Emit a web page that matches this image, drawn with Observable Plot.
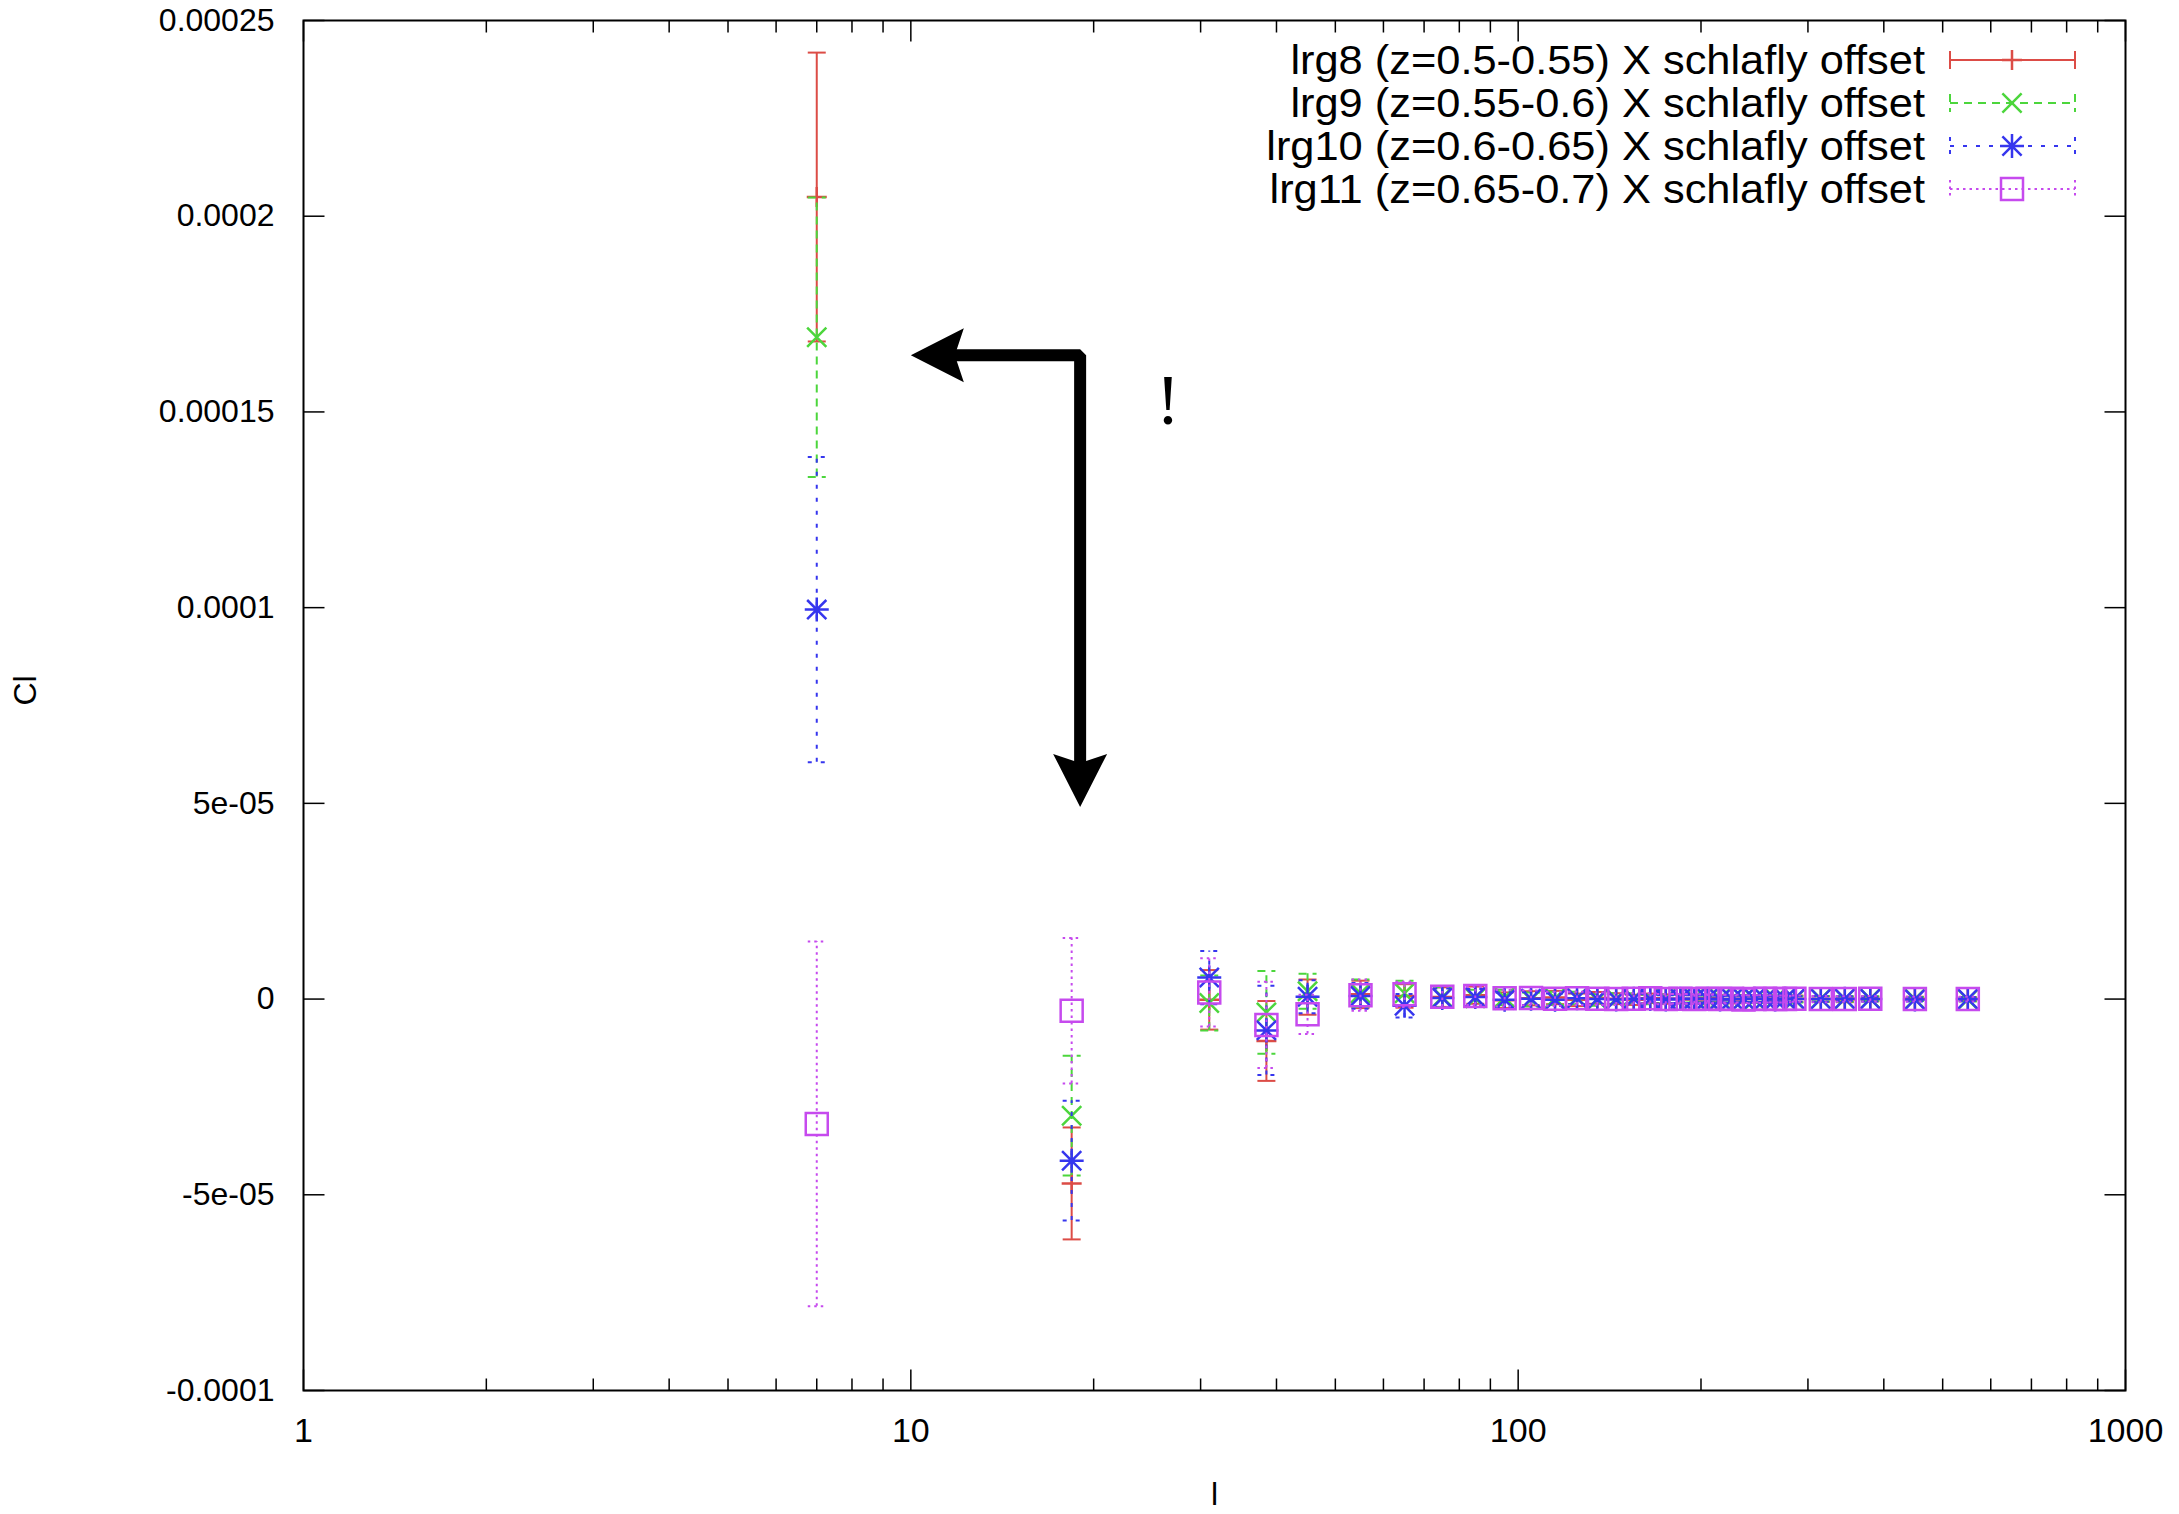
<!DOCTYPE html>
<html>
<head>
<meta charset="utf-8">
<script src="https://cdn.jsdelivr.net/npm/d3@7"></script>
<script src="https://cdn.jsdelivr.net/npm/@observablehq/plot@0.6"></script>
<style>
  html, body { margin: 0; padding: 0; background: #ffffff; }
  #chart { width: 2179px; height: 1514px; overflow: hidden; }
</style>
</head>
<body>
<div id="chart"></div>
<script>
// ---------------- data ----------------
const ells = [7, 18.4, 31, 38.5, 45, 55, 65, 75, 85, 95, 105, 115, 125, 135, 145, 155, 165, 175, 185, 195, 205, 215, 225, 235, 245, 255, 265, 275, 285, 315, 345, 380, 450, 550];

const seriesLabels = [
  "lrg8 (z=0.5-0.55) X schlafly offset",
  "lrg9 (z=0.55-0.6) X schlafly offset",
  "lrg10 (z=0.6-0.65) X schlafly offset",
  "lrg11 (z=0.65-0.7) X schlafly offset"
];

const lrg8Cl  = [20.49e-5, -4.71e-5, -0.02e-5, -1.07e-5, 0.05e-5, 0.12e-5, 0.08e-5, 0.05e-5, 0.10e-5, -0.03e-5, 0.02e-5, 0.04e-5, -0.02e-5, 0.03e-5, 0.01e-5, -0.02e-5, 0.02e-5, 0.00e-5, 0.01e-5, -0.01e-5, 0.02e-5, 0.00e-5, -0.01e-5, 0.01e-5, 0.00e-5, 0.01e-5, -0.01e-5, 0.00e-5, 0.01e-5, 0.00e-5, -0.01e-5, 0.00e-5, 0.01e-5, 0.00e-5];
const lrg8Err = [3.69e-5, 1.43e-5, 0.76e-5, 1.02e-5, 0.45e-5, 0.35e-5, 0.30e-5, 0.25e-5, 0.22e-5, 0.20e-5, 0.18e-5, 0.17e-5, 0.16e-5, 0.15e-5, 0.14e-5, 0.13e-5, 0.12e-5, 0.12e-5, 0.11e-5, 0.11e-5, 0.10e-5, 0.10e-5, 0.10e-5, 0.09e-5, 0.09e-5, 0.09e-5, 0.08e-5, 0.08e-5, 0.08e-5, 0.07e-5, 0.07e-5, 0.06e-5, 0.05e-5, 0.05e-5];

const lrg9Cl  = [16.91e-5, -2.98e-5, -0.10e-5, -0.34e-5, 0.20e-5, 0.15e-5, 0.15e-5, 0.05e-5, 0.02e-5, 0.04e-5, -0.01e-5, 0.02e-5, 0.03e-5, -0.02e-5, 0.01e-5, 0.02e-5, -0.01e-5, 0.01e-5, 0.00e-5, 0.02e-5, -0.01e-5, 0.01e-5, 0.00e-5, 0.01e-5, -0.01e-5, 0.00e-5, 0.01e-5, 0.00e-5, -0.01e-5, 0.01e-5, 0.00e-5, 0.01e-5, 0.00e-5, -0.01e-5];
const lrg9Err = [3.57e-5, 1.53e-5, 0.70e-5, 1.06e-5, 0.45e-5, 0.35e-5, 0.32e-5, 0.25e-5, 0.22e-5, 0.20e-5, 0.18e-5, 0.17e-5, 0.16e-5, 0.15e-5, 0.14e-5, 0.13e-5, 0.12e-5, 0.12e-5, 0.11e-5, 0.11e-5, 0.10e-5, 0.10e-5, 0.10e-5, 0.09e-5, 0.09e-5, 0.09e-5, 0.08e-5, 0.08e-5, 0.08e-5, 0.07e-5, 0.07e-5, 0.06e-5, 0.05e-5, 0.05e-5];

const lrg10Cl  = [9.95e-5, -4.13e-5, 0.55e-5, -0.80e-5, 0.06e-5, 0.08e-5, -0.17e-5, 0.03e-5, 0.05e-5, -0.02e-5, 0.01e-5, -0.02e-5, 0.02e-5, 0.00e-5, -0.01e-5, 0.01e-5, 0.00e-5, -0.01e-5, 0.01e-5, 0.00e-5, 0.01e-5, -0.01e-5, 0.00e-5, 0.00e-5, 0.01e-5, 0.00e-5, -0.01e-5, 0.01e-5, 0.00e-5, 0.00e-5, 0.01e-5, 0.00e-5, -0.01e-5, 0.00e-5];
const lrg10Err = [3.90e-5, 1.53e-5, 0.68e-5, 1.14e-5, 0.42e-5, 0.33e-5, 0.30e-5, 0.24e-5, 0.21e-5, 0.19e-5, 0.17e-5, 0.16e-5, 0.15e-5, 0.14e-5, 0.13e-5, 0.12e-5, 0.12e-5, 0.11e-5, 0.11e-5, 0.10e-5, 0.10e-5, 0.10e-5, 0.09e-5, 0.09e-5, 0.09e-5, 0.08e-5, 0.08e-5, 0.08e-5, 0.07e-5, 0.07e-5, 0.06e-5, 0.06e-5, 0.05e-5, 0.05e-5];

const lrg11Cl  = [-3.19e-5, -0.30e-5, 0.17e-5, -0.66e-5, -0.39e-5, 0.10e-5, 0.12e-5, 0.06e-5, 0.08e-5, 0.02e-5, 0.03e-5, 0.01e-5, 0.02e-5, 0.01e-5, 0.00e-5, 0.01e-5, 0.02e-5, 0.00e-5, 0.01e-5, 0.00e-5, 0.01e-5, 0.00e-5, 0.01e-5, -0.01e-5, 0.00e-5, 0.01e-5, 0.00e-5, 0.00e-5, 0.01e-5, 0.00e-5, 0.00e-5, 0.01e-5, 0.00e-5, 0.00e-5];
const lrg11Err = [4.66e-5, 1.86e-5, 0.87e-5, 1.10e-5, 0.50e-5, 0.40e-5, 0.32e-5, 0.26e-5, 0.23e-5, 0.21e-5, 0.19e-5, 0.18e-5, 0.17e-5, 0.16e-5, 0.15e-5, 0.14e-5, 0.13e-5, 0.13e-5, 0.12e-5, 0.12e-5, 0.11e-5, 0.11e-5, 0.10e-5, 0.10e-5, 0.10e-5, 0.09e-5, 0.09e-5, 0.08e-5, 0.08e-5, 0.08e-5, 0.07e-5, 0.07e-5, 0.06e-5, 0.06e-5];

// axis ticks
const yTickValues = [-1e-4, -5e-5, 0, 5e-5, 1e-4, 1.5e-4, 2e-4, 2.5e-4];
const yTickLabels = ["-0.0001", "-5e-05", "0", "5e-05", "0.0001", "0.00015", "0.0002", "0.00025"];
const xMajorTicks = [1, 10, 100, 1000];
const xTickLabels = ["1", "10", "100", "1000"];
const xMinorTicks = [2, 3, 4, 5, 6, 7, 8, 9, 20, 30, 40, 50, 60, 70, 80, 90, 200, 300, 400, 500, 600, 700, 800, 900];
const xAxisTitle = ["l"];
const yAxisTitle = ["Cl"];

// annotation (data units): arrow shaft, two heads, and "!"
const arrowShaft = [{x: 11.65, y: 1.645e-4}, {x: 19, y: 1.645e-4}, {x: 19, y: 5.93e-5}];
const arrowHeadLeft = [{x: 10, y: 1.645e-4}];
const arrowHeadDown = [{x: 19, y: 4.91e-5}];
const noteMark = [{x: 26.5, y: 1.528e-4, text: "!"}];

// ---------------- symbols ----------------
const sym = f => ({draw(ctx, size) { const r = Math.sqrt(size / Math.PI); f(ctx, r); }});
const plusSym = sym((c, r) => { c.moveTo(-r, 0); c.lineTo(r, 0); c.moveTo(0, -r); c.lineTo(0, r); });
const timesSym = sym((c, r) => { const k = r * 0.8; c.moveTo(-k, -k); c.lineTo(k, k); c.moveTo(-k, k); c.lineTo(k, -k); });
const starSym = sym((c, r) => { const k = r * 0.8; c.moveTo(-r, 0); c.lineTo(r, 0); c.moveTo(0, -r); c.lineTo(0, r); c.moveTo(-k, -k); c.lineTo(k, k); c.moveTo(-k, k); c.lineTo(k, -k); });
const squareSym = sym((c, r) => { c.moveTo(-r, -r); c.lineTo(r, -r); c.lineTo(r, r); c.lineTo(-r, r); c.closePath(); });
const capSym = sym((c, r) => { c.moveTo(-r, 0); c.lineTo(r, 0); });
const tickSym = (dx, dy) => ({draw(c) { c.moveTo(0, 0); c.lineTo(dx, dy); }});
const headLeftSym = {draw(c) { c.moveTo(0, 0); c.lineTo(53, -27); c.lineTo(44, 0); c.lineTo(53, 27); c.closePath(); }};
const headDownSym = {draw(c) { c.moveTo(0, 0); c.lineTo(-27, -53); c.lineTo(0, -44); c.lineTo(27, -53); c.closePath(); }};

const series = [
  {label: seriesLabels[0], cl: lrg8Cl, err: lrg8Err, color: "#dc4c46", dash: null, symbol: plusSym, r: 10},
  {label: seriesLabels[1], cl: lrg9Cl, err: lrg9Err, color: "#4cd63c", dash: "8,6", symbol: timesSym, r: 12},
  {label: seriesLabels[2], cl: lrg10Cl, err: lrg10Err, color: "#3636ee", dash: "4,9", symbol: starSym, r: 12},
  {label: seriesLabels[3], cl: lrg11Cl, err: lrg11Err, color: "#c64aee", dash: "2.5,4", symbol: squareSym, r: 11}
];

const rowsOf = s => ells.map((ell, i) => ({ell, cl: s.cl[i], lo: s.cl[i] - s.err[i], hi: s.cl[i] + s.err[i]}));

const seriesMarks = s => {
  const rows = rowsOf(s);
  const common = {stroke: s.color, strokeWidth: 2, fill: "none"};
  const dashOpt = s.dash ? {strokeDasharray: s.dash} : {};
  return [
    Plot.ruleX(rows, {x: "ell", y1: "lo", y2: "hi", stroke: s.color, strokeWidth: 2, ...dashOpt}),
    Plot.dot(rows, {x: "ell", y: "lo", symbol: capSym, r: 9, ...common, ...dashOpt}),
    Plot.dot(rows, {x: "ell", y: "hi", symbol: capSym, r: 9, ...common, ...dashOpt}),
    Plot.dot(rows, {x: "ell", y: "cl", symbol: s.symbol, r: s.r, ...common, strokeWidth: 2.5})
  ];
};

const fmtY = d => yTickLabels[yTickValues.findIndex(v => Math.abs(v - d) < 1e-12)];
const fmtX = d => xTickLabels[xMajorTicks.indexOf(d)];
const font = "'Liberation Sans', Arial, Helvetica, sans-serif";

const chart = Plot.plot({
  width: 2179,
  height: 1514,
  marginLeft: 303,
  marginRight: 54,
  marginTop: 20,
  marginBottom: 124,
  style: {fontFamily: font, fontSize: "32px", background: "#ffffff", color: "#000000"},
  x: {type: "log", domain: [1, 1000]},
  y: {domain: [-1e-4, 2.5e-4]},
  marks: [
    Plot.axisY({ticks: yTickValues, tickSize: 0, tickPadding: 29, tickFormat: fmtY, fontSize: 32, label: null}),
    Plot.axisX({ticks: xMajorTicks, tickSize: 0, tickPadding: 27, tickFormat: fmtX, fontSize: 34, label: null}),
    Plot.text(yAxisTitle, {text: d => d, frameAnchor: "left", dx: -278, rotate: -90, fontSize: 32}),
    Plot.text(xAxisTitle, {text: d => d, frameAnchor: "bottom", dy: 114, fontSize: 32}),
    // gnuplot style inward ticks on all four sides
    Plot.dot(yTickValues, {y: d => d, frameAnchor: "left", symbol: tickSym(21, 0), stroke: "black", strokeWidth: 1.5, fill: "none"}),
    Plot.dot(yTickValues, {y: d => d, frameAnchor: "right", symbol: tickSym(-21, 0), stroke: "black", strokeWidth: 1.5, fill: "none"}),
    Plot.dot(xMajorTicks, {x: d => d, frameAnchor: "bottom", symbol: tickSym(0, -21), stroke: "black", strokeWidth: 1.5, fill: "none"}),
    Plot.dot(xMajorTicks, {x: d => d, frameAnchor: "top", symbol: tickSym(0, 21), stroke: "black", strokeWidth: 1.5, fill: "none"}),
    Plot.dot(xMinorTicks, {x: d => d, frameAnchor: "bottom", symbol: tickSym(0, -12), stroke: "black", strokeWidth: 1.5, fill: "none"}),
    Plot.dot(xMinorTicks, {x: d => d, frameAnchor: "top", symbol: tickSym(0, 12), stroke: "black", strokeWidth: 1.5, fill: "none"}),
    // data
    ...series.flatMap(seriesMarks),
    // annotation
    Plot.line(arrowShaft, {x: "x", y: "y", stroke: "black", strokeWidth: 12, strokeLinejoin: "miter", strokeLinecap: "butt"}),
    Plot.dot(arrowHeadLeft, {x: "x", y: "y", symbol: headLeftSym, fill: "black", stroke: "none"}),
    Plot.dot(arrowHeadDown, {x: "x", y: "y", symbol: headDownSym, fill: "black", stroke: "none"}),
    Plot.text(noteMark, {x: "x", y: "y", text: "text", fontSize: 72, fontFamily: "'Liberation Serif', 'DejaVu Serif', serif", fill: "black"}),
    Plot.frame({stroke: "black", strokeWidth: 2})
  ]
});

// ---------------- legend (inside the plot, top right) ----------------
const svg = d3.select(chart);
const lg = svg.append("g").attr("class", "legend");
const rowY = [60, 103, 146, 189];
series.forEach((s, i) => {
  const y = rowY[i];
  lg.append("text")
    .attr("transform", `translate(1925,${y}) scale(1.085,1)`)
    .attr("text-anchor", "end")
    .attr("dy", "0.35em")
    .attr("font-family", font)
    .attr("font-size", 40)
    .attr("fill", "#000")
    .text(s.label);
  const g = lg.append("g").attr("stroke", s.color).attr("stroke-width", 2).attr("fill", "none");
  if (s.dash) g.attr("stroke-dasharray", s.dash);
  g.append("line").attr("x1", 1950).attr("x2", 2075).attr("y1", y).attr("y2", y);
  g.append("line").attr("x1", 1950).attr("x2", 1950).attr("y1", y - 9).attr("y2", y + 9);
  g.append("line").attr("x1", 2075).attr("x2", 2075).attr("y1", y - 9).attr("y2", y + 9);
  lg.append("path")
    .attr("d", d3.symbol(s.symbol, Math.PI * s.r * s.r)())
    .attr("transform", `translate(2012,${y})`)
    .attr("stroke", s.color).attr("stroke-width", 2.5).attr("fill", "none");
});

document.getElementById("chart").appendChild(chart);
</script>
</body>
</html>
